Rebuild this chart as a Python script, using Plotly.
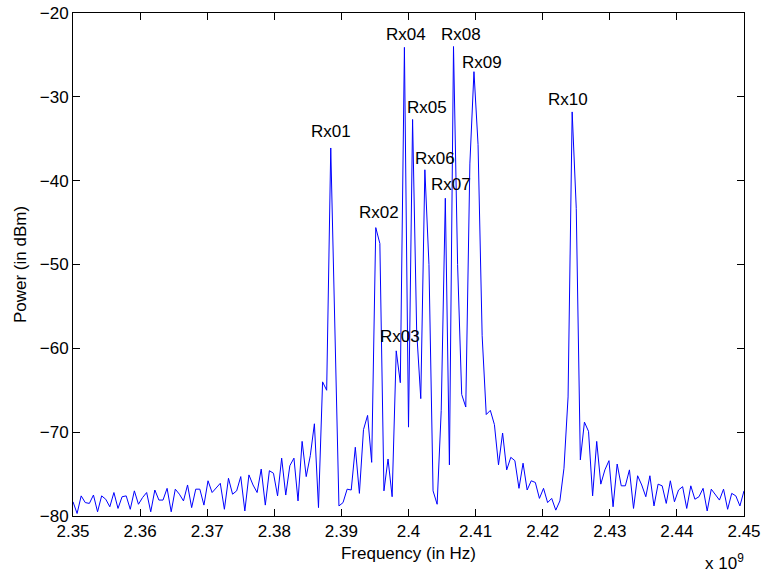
import plotly.graph_objects as go

# Frequency grid (in units of 1e9 Hz), 165 equally spaced bins from 2.35 to 2.45
f_start = 2.35
f_stop = 2.45
n_bins = 165
freq = [f_start + i * (f_stop - f_start) / (n_bins - 1) for i in range(n_bins)]

power_dbm = [
    -78.3, -79.7, -77.6, -78.4, -78.5, -77.5, -79.5, -77.6, -78.0, -78.9,
    -77.2, -79.1, -77.7, -77.6, -79.2, -77.0, -78.6, -77.8, -77.2, -79.5,
    -76.9, -78.1, -78.1, -76.7, -79.5, -76.8, -77.4, -78.2, -76.3, -79.0,
    -76.8, -76.8, -78.7, -75.8, -77.2, -76.6, -76.1, -79.2, -75.5, -77.4,
    -77.0, -75.3, -79.4, -75.1, -76.3, -77.2, -74.4, -78.7, -74.6, -74.9,
    -77.6, -73.1, -77.5, -74.0, -73.1, -78.2, -71.1, -75.3, -72.8, -69.0,
    -79.0, -64.0, -65.0, -36.1, -57.5, -78.8, -78.4, -76.8, -76.9, -71.8,
    -77.3, -69.7, -68.0, -73.6, -45.6, -47.5, -77.0, -73.2, -77.7, -60.3,
    -64.1, -24.1, -69.4, -32.7, -58.0, -66.0, -38.7, -50.0, -77.0, -78.6,
    -67.4, -42.1, -73.9, -24.0, -50.0, -65.5, -67.0, -38.0, -27.0, -35.7,
    -58.5, -67.9, -67.4, -69.1, -73.9, -70.1, -74.5, -73.0, -73.4, -76.7,
    -73.7, -76.9, -75.8, -76.0, -77.9, -76.7, -78.4, -77.9, -79.3, -78.2,
    -74.3, -65.8, -31.8, -43.3, -73.3, -68.8, -69.9, -77.6, -71.1, -76.2,
    -74.5, -73.4, -78.9, -73.8, -76.4, -76.4, -74.5, -79.1, -75.2, -76.3,
    -77.7, -75.2, -78.8, -76.2, -76.4, -78.5, -75.8, -78.3, -76.9, -76.5,
    -79.1, -76.4, -78.0, -77.7, -76.7, -79.4, -76.8, -77.4, -78.1, -76.8,
    -79.2, -77.3, -77.6, -78.8, -77.0,
]

# Peak labels
rx_labels = ["Rx01", "Rx02", "Rx03", "Rx04", "Rx05", "Rx06", "Rx07", "Rx08", "Rx09", "Rx10"]
rx_label_x = [2.38845, 2.39560, 2.39873, 2.39969, 2.40278, 2.40395, 2.40626, 2.40787, 2.41091, 2.42381]
rx_label_y = [-34.1, -43.8, -58.6, -22.6, -31.3, -37.4, -40.5, -22.6, -25.9, -30.3]

x_tickvals = [2.35, 2.36, 2.37, 2.38, 2.39, 2.40, 2.41, 2.42, 2.43, 2.44, 2.45]
x_ticktext = ["2.35", "2.36", "2.37", "2.38", "2.39", "2.4", "2.41", "2.42", "2.43", "2.44", "2.45"]
y_tickvals = [-80, -70, -60, -50, -40, -30, -20]

FONT = "Liberation Sans, Arial, Helvetica, sans-serif"

fig = go.Figure()
fig.add_trace(go.Scatter(
    x=freq, y=power_dbm, mode="lines",
    line=dict(color="#0000ff", width=1),
    showlegend=False, hoverinfo="skip",
))

annotations = []
for t, x, y in zip(rx_labels, rx_label_x, rx_label_y):
    annotations.append(dict(
        x=x, y=y, xref="x", yref="y", text=t, showarrow=False,
        xanchor="center", yanchor="middle",
        font=dict(family=FONT, size=17, color="black"),
    ))

annotations.append(dict(
    x=0.9389, y=-0.066, xref="paper", yref="paper",
    text="x 10<sup>9</sup>", showarrow=False,
    xanchor="left", yanchor="top",
    font=dict(family=FONT, size=17, color="black"),
))

axis_common = dict(
    showline=True, linecolor="black", linewidth=1, mirror="ticks",
    ticks="inside", ticklen=7, tickwidth=1, tickcolor="black",
    showgrid=False, zeroline=False, automargin=False,
    tickfont=dict(family=FONT, size=17, color="black"),
)

fig.update_layout(
    width=763, height=572,
    margin=dict(l=73, r=19, t=13, b=56, autoexpand=False),
    paper_bgcolor="white", plot_bgcolor="white",
    font=dict(family=FONT, size=17, color="black"),
    xaxis=dict(
        range=[2.35, 2.45], tickvals=x_tickvals, ticktext=x_ticktext,
        title=dict(text="Frequency (in Hz)", standoff=6,
                   font=dict(family=FONT, size=17, color="black")),
        **axis_common,
    ),
    yaxis=dict(
        range=[-80, -20], tickvals=y_tickvals,
        title=dict(text="Power (in dBm)", standoff=8,
                   font=dict(family=FONT, size=17, color="black")),
        **axis_common,
    ),
    annotations=annotations,
)

fig.write_html("out.html")
